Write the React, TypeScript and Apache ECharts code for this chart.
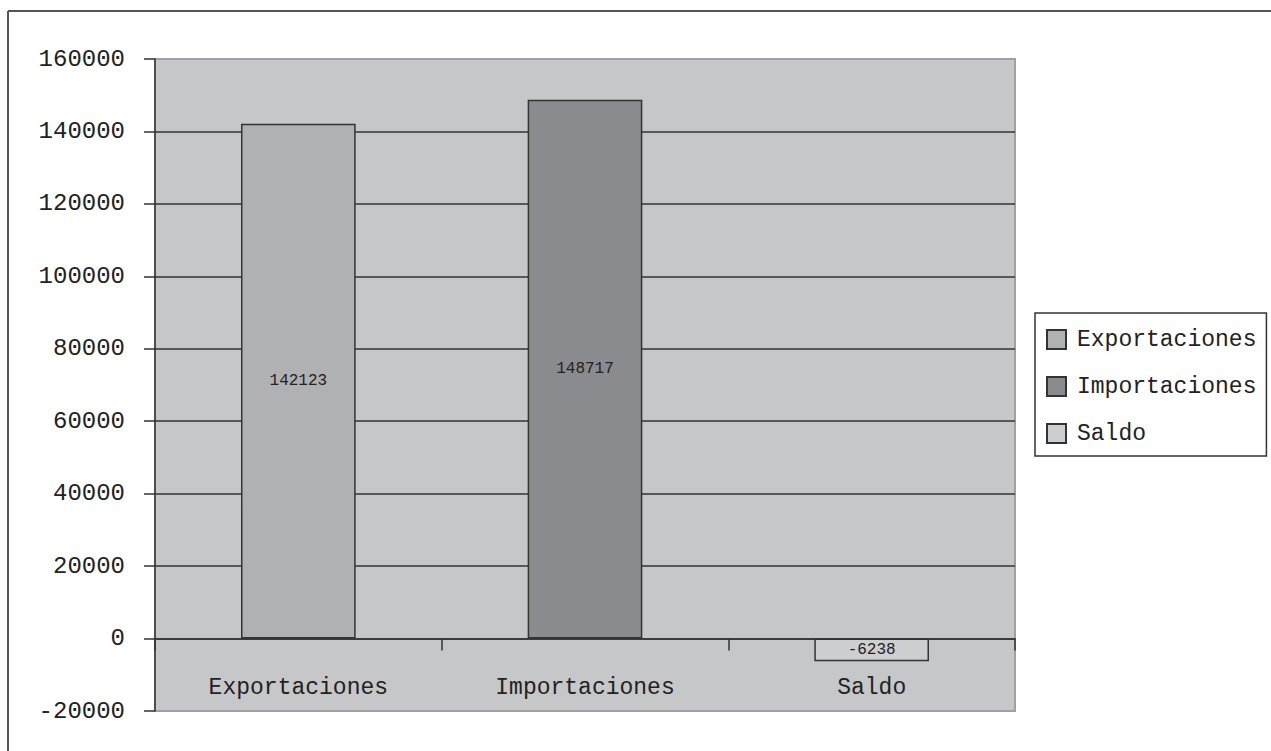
import React, { useEffect, useRef } from "react";
import * as echarts from "echarts";

const categories = ["Exportaciones", "Importaciones", "Saldo"];
const values = [142123, 148717, -6238];
const seriesNames = ["Exportaciones", "Importaciones", "Saldo"];
const seriesColors = ["#b0b1b3", "#8a8b8f", "#cecfd1"];
const yMin = -20000;
const yMax = 160000;
const yInterval = 20000;

const FONT = "Liberation Mono";

export default function App() {
  const ref = useRef<HTMLDivElement>(null);
  useEffect(() => {
    if (!ref.current) return;
    const chart = echarts.init(ref.current, undefined, { renderer: "svg" });
    const series = seriesNames.map((name, i) => ({
      name,
      type: "bar",
      stack: "total",
      barWidth: "40%",
      data: categories.map((_, j) => (j === i ? values[j] : "-")),
      itemStyle: {
        color: seriesColors[i],
        borderColor: "#333333",
        borderWidth: 1.5,
      },
      label: {
        show: true,
        position: "inside",
        fontFamily: FONT,
        fontSize: 16,
        color: "#222222",
      },
    }));
    chart.setOption({
      animation: false,
      backgroundColor: "#ffffff",
      grid: {
        left: 155,
        top: 59,
        right: 256,
        bottom: 40,
        outerBoundsMode: "none",
        containLabel: false,
        show: true,
        backgroundColor: "#c6c7c9",
        borderColor: "#a0a0a0",
        borderWidth: 2,
      },
      legend: {
        orient: "vertical",
        left: 1035,
        top: 313,
        padding: [15, 10, 11, 11],
        itemGap: 24,
        itemWidth: 19,
        itemHeight: 19,
        icon: "rect",
        borderColor: "#333333",
        borderWidth: 1.5,
        backgroundColor: "#ffffff",
        textStyle: {
          fontFamily: FONT,
          fontSize: 23,
          color: "#222222",
          lineHeight: 19,
          padding: [0, 0, 0, 6],
        },
        data: seriesNames,
      },
      xAxis: {
        type: "category",
        data: categories,
        axisLine: { show: true, onZero: true, lineStyle: { color: "#333333", width: 1.5 } },
        axisTick: { show: true, inside: false, length: 12, lineStyle: { color: "#333333", width: 1.5 } },
        axisLabel: {
          fontFamily: FONT,
          fontSize: 23,
          color: "#222222",
          inside: true,
          margin: 12,
        },
        splitLine: { show: false },
      },
      yAxis: {
        type: "value",
        min: yMin,
        max: yMax,
        interval: yInterval,
        axisLine: { show: true, lineStyle: { color: "#333333", width: 1.5 } },
        axisTick: { show: true, length: 11, lineStyle: { color: "#333333", width: 1.5 } },
        axisLabel: {
          fontFamily: FONT,
          fontSize: 24,
          color: "#222222",
          margin: 30,
          formatter: (v: number) => String(v),
        },
        splitLine: {
          show: true,
          showMinLine: false,
          showMaxLine: false,
          lineStyle: { color: "#333333", width: 1.5 },
        },
      },
      graphic: [
        {
          type: "line",
          shape: { x1: 8, y1: 11, x2: 1271, y2: 11 },
          style: { stroke: "#555555", lineWidth: 2 },
          silent: true,
        },
        {
          type: "line",
          shape: { x1: 8, y1: 11, x2: 8, y2: 751 },
          style: { stroke: "#555555", lineWidth: 2 },
          silent: true,
        },
      ],
      series,
    });
    return () => chart.dispose();
  }, []);
  return (
    <div
      ref={ref}
      style={{ position: "fixed", left: 0, top: 0, width: 1271, height: 751 }}
    />
  );
}
